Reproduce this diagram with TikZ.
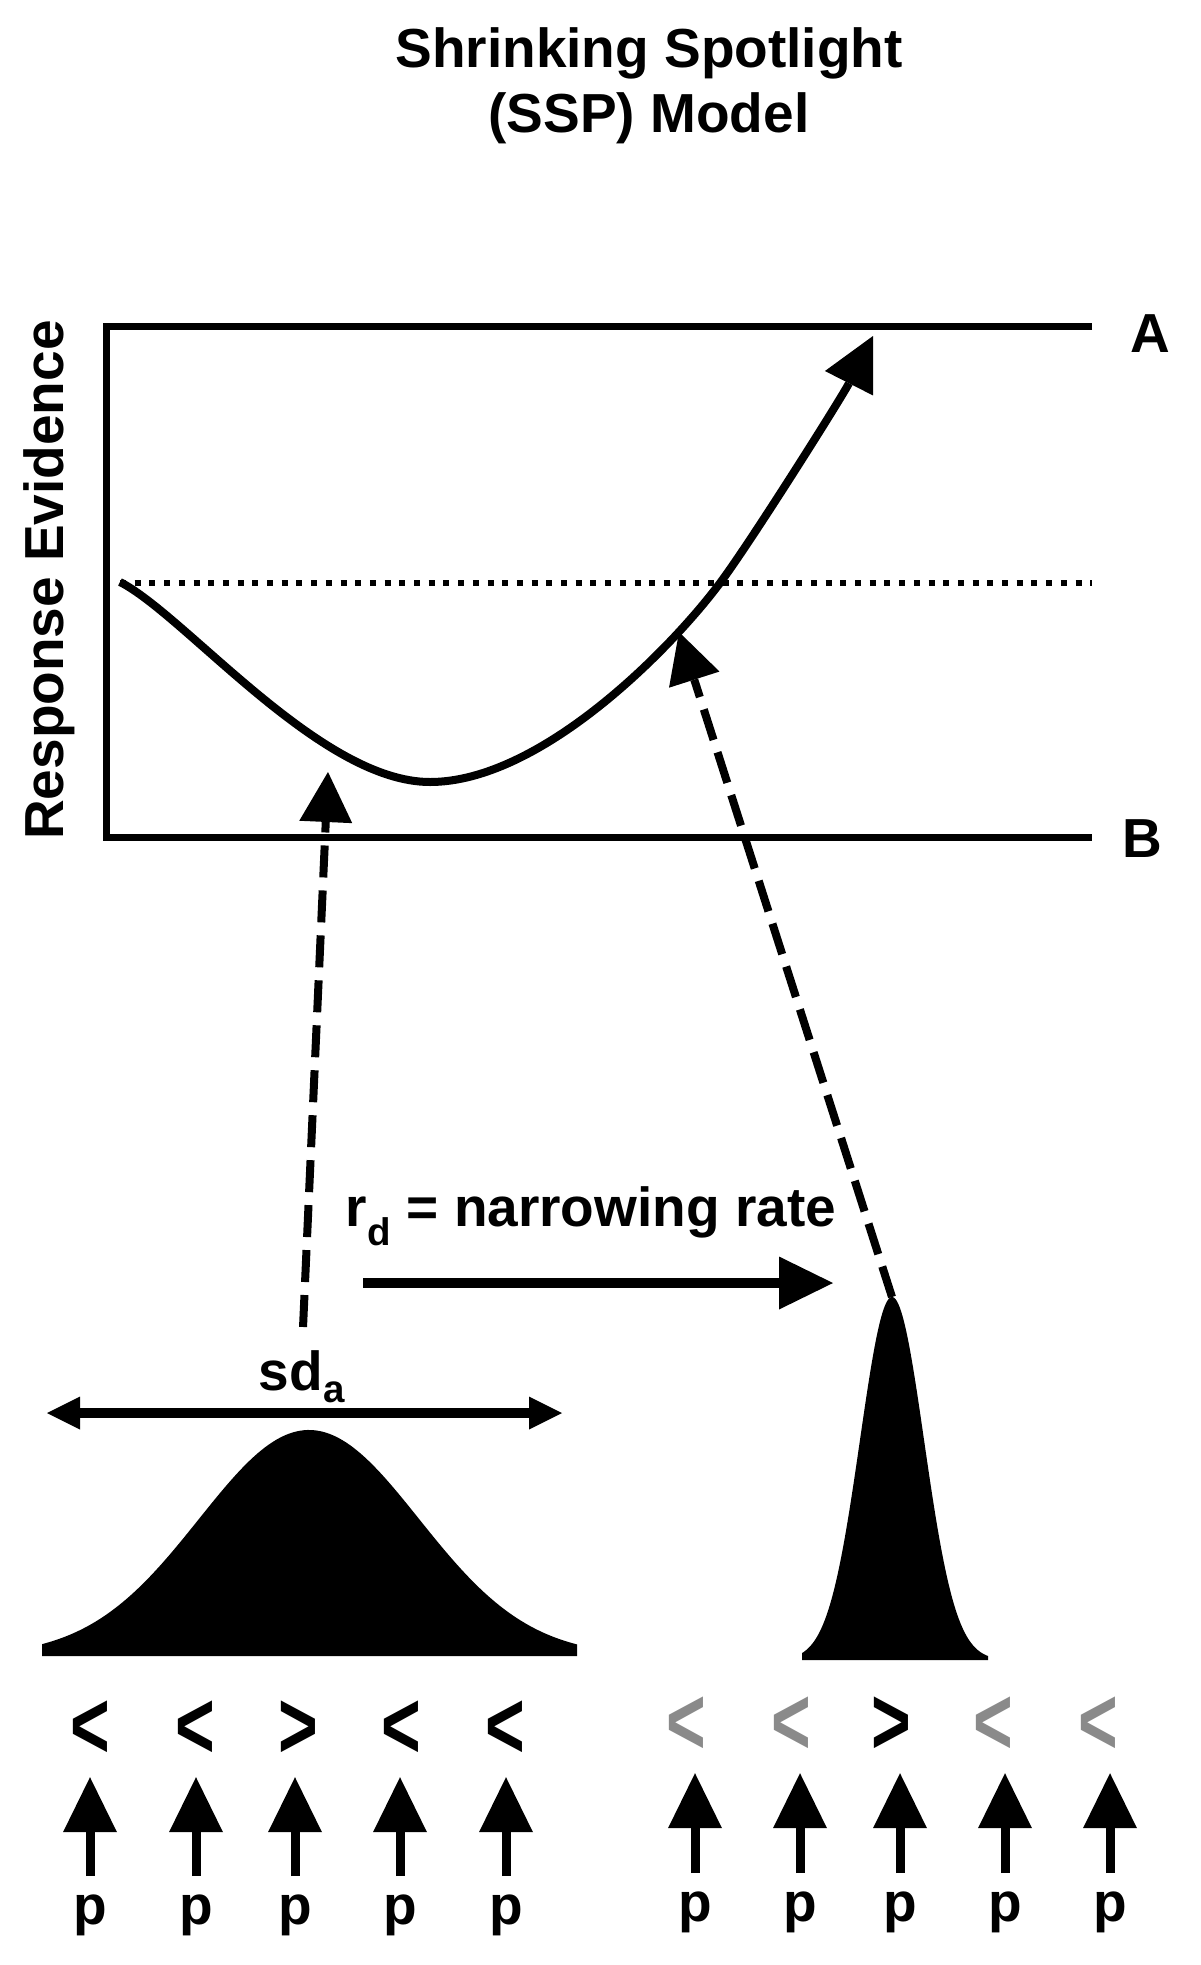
\documentclass[tikz,border=0pt]{standalone}
\usepackage{fontspec}
\usepackage{graphicx}
\setmainfont{Liberation Sans}
\usetikzlibrary{arrows.meta,positioning}
\definecolor{dimgrey}{RGB}{138,138,138}
\newcommand{\lblfont}{\bfseries\fontsize{55}{65}\selectfont}
\newcommand{\chevfont}{\bfseries\fontsize{80}{90}\selectfont}
\newcommand{\chevron}[1]{\scalebox{0.85}[1.2]{#1}}
\tikzset{
  boxline/.style={line width=7pt},
  dotline/.style={line width=6pt, dash pattern=on 6pt off 8.7pt},
  trajectory/.style={line width=8pt, -{Triangle[length=53pt,width=54pt,line width=0pt]}},
  evidence/.style={line width=8pt, dash pattern=on 32pt off 13pt, -{Triangle[length=50pt,width=53pt,line width=0pt]}},
  narrowing/.style={line width=10pt, -{Triangle[length=54pt,width=53pt,line width=0pt]}},
  spread/.style={line width=10pt, {Triangle[length=33pt,width=33pt,line width=0pt]}-{Triangle[length=33pt,width=33pt,line width=0pt]}},
  uparrow/.style={line width=9pt, shorten <=18pt, shorten >=19pt, -{Triangle[length=55pt,width=54pt,line width=0pt]}},
  lbl/.style={font=\lblfont, inner sep=0pt, anchor=base},
  chev/.style={font=\chevfont, inner sep=0pt, anchor=base},
}
\begin{document}
\begin{tikzpicture}[x=1pt,y=1pt]
    \useasboundingbox (0,0) rectangle (1200,-1965);
    \node[lbl, align=center, anchor=north] (title) at (649,-27) {Shrinking Spotlight\\(SSP) Model};
    % evidence accumulation panel
    \draw[boxline] (1092,-326) -- (106,-326) -- (106,-837) -- (1092,-837);
    \node[lbl] (A) at (1150,-352) {A};
    \node[lbl] (B) at (1142,-857) {B};
    \node[lbl, rotate=90] (yaxis) at (63,-580) {Response Evidence};
    \draw[dotline] (120,-583) -- (1092,-583);
    \coordinate (x0) at (120,-582);
    \coordinate (hitA) at (328,-772);
    \coordinate (hitB) at (679,-632);
    \draw[trajectory] (x0) .. controls (185,-615) and (320,-782) .. (430,-782)
        .. controls (540,-782) and (670,-650) .. (720,-583)
        .. controls (750,-543) and (842,-397) .. (873,-336);
    % spotlights
    \coordinate (peakA) at (309,-1430);
    \coordinate (peakB) at (892,-1297);
    \fill[black] (42,-1656) -- plot[domain=42:577, samples=140] (\x, {-1656+226*exp(-0.5*((\x-309)/110)^2)}) -- (577,-1656) -- cycle;
    \fill[black] (802,-1660) -- plot[domain=802:988, samples=140] (\x, {-1660+363*exp(-0.5*((\x-892)/32)^2)}) -- (988,-1660) -- cycle;
    \node[lbl] (sd) at (302,-1390) {sd\textsubscript{a}};
    \node[lbl] (rate) at (591,-1226) {r\textsubscript{d} = narrowing rate};
    \coordinate (spreadL) at (47,-1413);
    \coordinate (spreadR) at (562,-1413);
    \draw[spread] (spreadL) -- (spreadR);
    \coordinate (narrowL) at (363,-1283);
    \coordinate (narrowR) at (833,-1283);
    \draw[narrowing] (narrowL) -- (narrowR);
    \draw[evidence, shorten <=23pt] (sd.north) -- (hitA);
    \draw[evidence] (peakB) -- (hitB);
    % flankers and target
    \node[chev] (c1) at (90,-1758) {\chevron{<}};
    \node[chev] (c2) at (195,-1758) {\chevron{<}};
    \node[chev] (c3) at (298,-1758) {\chevron{>}};
    \node[chev] (c4) at (401,-1758) {\chevron{<}};
    \node[chev] (c5) at (505,-1758) {\chevron{<}};
    \node[chev, text=dimgrey] (c6) at (686,-1754) {\chevron{<}};
    \node[chev, text=dimgrey] (c7) at (791,-1754) {\chevron{<}};
    \node[chev] (c8) at (891,-1754) {\chevron{>}};
    \node[chev, text=dimgrey] (c9) at (993,-1754) {\chevron{<}};
    \node[chev, text=dimgrey] (c10) at (1098,-1754) {\chevron{<}};
    \node[lbl] (p1) at (90,-1924) {p};
    \node[lbl] (p2) at (196,-1924) {p};
    \node[lbl] (p3) at (295,-1924) {p};
    \node[lbl] (p4) at (400,-1924) {p};
    \node[lbl] (p5) at (506,-1924) {p};
    \node[lbl] (p6) at (695,-1921) {p};
    \node[lbl] (p7) at (800,-1921) {p};
    \node[lbl] (p8) at (900,-1921) {p};
    \node[lbl] (p9) at (1005,-1921) {p};
    \node[lbl] (p10) at (1110,-1921) {p};
    \draw[uparrow] (p1.north) -- (p1.north |- c1.south);
    \draw[uparrow] (p2.north) -- (p2.north |- c2.south);
    \draw[uparrow] (p3.north) -- (p3.north |- c3.south);
    \draw[uparrow] (p4.north) -- (p4.north |- c4.south);
    \draw[uparrow] (p5.north) -- (p5.north |- c5.south);
    \draw[uparrow] (p6.north) -- (p6.north |- c6.south);
    \draw[uparrow] (p7.north) -- (p7.north |- c7.south);
    \draw[uparrow] (p8.north) -- (p8.north |- c8.south);
    \draw[uparrow] (p9.north) -- (p9.north |- c9.south);
    \draw[uparrow] (p10.north) -- (p10.north |- c10.south);
\end{tikzpicture}
\end{document}
